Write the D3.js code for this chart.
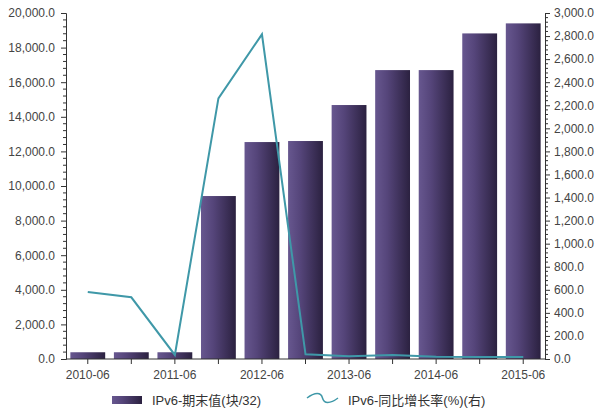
<!DOCTYPE html>
<html><head><meta charset="utf-8">
<script src="https://cdn.jsdelivr.net/npm/d3@7/dist/d3.min.js"></script>
<style>
body{margin:0;background:#fff;}
text{font-family:"Liberation Sans",Arial,"Noto Sans CJK SC",sans-serif;}
</style></head><body>
<svg id="c" width="600" height="414"></svg>
<script>
const categories = ["2010-06","2010-12","2011-06","2011-12","2012-06","2012-12","2013-06","2013-12","2014-06","2014-12","2015-06"];
const tickLabels = ["2010-06","2011-06","2012-06","2013-06","2014-06","2015-06"];
const barValues = [390, 390, 390, 9420, 12540, 12600, 14680, 16700, 16700, 18820, 19400];
const lineValues = [581, 535, 35, 2260, 2815, 41, 24, 35, 20, 17, 17];
const leftTicks = [0,2000,4000,6000,8000,10000,12000,14000,16000,18000,20000];
const rightTicks = [0,200,400,600,800,1000,1200,1400,1600,1800,2000,2200,2400,2600,2800,3000];
const barName = "IPv6-期末值(块/32)";
const lineName = "IPv6-同比增长率(%)(右)";

const svg = d3.select("#c");
const L = 66, R = 545, T = 13, B = 359;
const x = d3.scaleBand().domain(categories).range([L, R]).paddingInner(0.2).paddingOuter(0.1);
const yL = d3.scaleLinear().domain([0, 20000]).range([B, T]);
const yR = d3.scaleLinear().domain([0, 3000]).range([B, T]);

const defs = svg.append("defs");
const g = defs.append("linearGradient").attr("id","bg").attr("x1","0").attr("x2","1").attr("y1","0").attr("y2","0");
g.append("stop").attr("offset","0").attr("stop-color","#67578f");
g.append("stop").attr("offset","0.35").attr("stop-color","#55457a");
g.append("stop").attr("offset","1").attr("stop-color","#2b2140");

// bars
svg.append("g").selectAll("rect").data(barValues).join("rect")
  .attr("x",(d,i)=>x(categories[i]))
  .attr("width",x.bandwidth())
  .attr("y",d=>yL(d))
  .attr("height",d=>B-yL(d))
  .attr("fill","url(#bg)");

// line
const line = d3.line().x((d,i)=>x(categories[i])+x.bandwidth()/2).y(d=>yR(d));
svg.append("path").datum(lineValues).attr("d",line)
  .attr("fill","none").attr("stroke","#3f98a8").attr("stroke-width",2);

const fmt = d3.format(",.1f");
const axisColor = "#333";
// left axis
const la = svg.append("g").attr("transform",`translate(${L},0)`)
  .call(d3.axisLeft(yL).tickValues(leftTicks).tickFormat(fmt).tickSize(5).tickPadding(6));
const lminor = d3.range(0,20001,400).filter(v=>v%2000!==0);
svg.append("g").selectAll("line").data(lminor).join("line")
  .attr("x1",L-3).attr("x2",L).attr("y1",d=>yL(d)).attr("y2",d=>yL(d)).attr("stroke",axisColor);
// right axis
const ra = svg.append("g").attr("transform",`translate(${R},0)`)
  .call(d3.axisRight(yR).tickValues(rightTicks).tickFormat(fmt).tickSize(5).tickPadding(4));
const rminor = d3.range(0,3001,40).filter(v=>v%200!==0);
svg.append("g").selectAll("line").data(rminor).join("line")
  .attr("x1",R).attr("x2",R+3).attr("y1",d=>yR(d)).attr("y2",d=>yR(d)).attr("stroke",axisColor);
// bottom axis
const ba = svg.append("g").attr("transform",`translate(0,${B})`)
  .call(d3.axisBottom(x).tickSize(5).tickPadding(6).tickFormat(d=>tickLabels.includes(d)?d:""));
[la,ra,ba].forEach(a=>{
  a.select(".domain").attr("stroke",axisColor);
  a.selectAll(".tick line").attr("stroke",axisColor);
  a.selectAll("text").attr("fill","#444").style("font-size","12px");
});
ba.select(".domain").attr("d",`M${L},0H${R}`);

// legend
const lg = svg.append("g");
lg.append("rect").attr("x",112).attr("y",396).attr("width",30).attr("height",8).attr("fill","url(#bg)");
lg.append("text").attr("x",152).attr("y",405).text(barName).attr("fill","#333").style("font-size","13px");
lg.append("path").attr("d","M307,398 C315,392 321,392 322.5,398 C324,404 330,404 338,398")
  .attr("fill","none").attr("stroke","#3f98a8").attr("stroke-width",1.5);
lg.append("text").attr("x",348).attr("y",405).text(lineName).attr("fill","#333").style("font-size","13px");
</script></body></html>
